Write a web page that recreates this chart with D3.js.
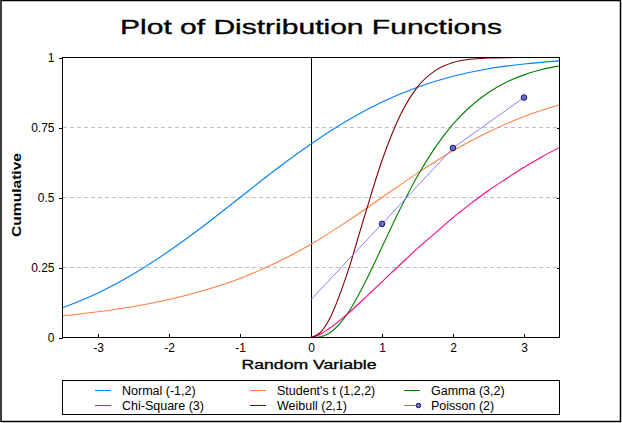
<!DOCTYPE html>
<html><head><meta charset="utf-8">
<script src="https://cdn.jsdelivr.net/npm/d3@7"></script>
<style>
html,body{margin:0;padding:0;background:#fff;}
svg{display:block;font-family:"Liberation Sans",Arial,sans-serif;}
</style></head>
<body>
<svg id="chart" width="622" height="423"></svg>
<script>
// ---- data ----
const title = "Plot of Distribution Functions";
const xTicks = [-3, -2, -1, 0, 1, 2, 3];
const yTicks = [0, 0.25, 0.5, 0.75, 1];
const yTickLabels = ["0", "0.25", "0.5", "0.75", "1"];

const xFull = [-3.5, -3, -2.5, -2, -1.5, -1, -0.5, 0, 0.5, 1, 1.5, 2, 2.5, 3, 3.5];
const normalY = [0.106, 0.159, 0.227, 0.309, 0.401, 0.5, 0.599, 0.691, 0.773, 0.841, 0.894, 0.933, 0.960, 0.977, 0.988];
const studentY = [0.077, 0.092, 0.111, 0.136, 0.169, 0.211, 0.266, 0.333, 0.413, 0.5, 0.587, 0.667, 0.734, 0.789, 0.831];

const xPos = [0, 0.125, 0.25, 0.5, 0.75, 1, 1.25, 1.5, 1.75, 2, 2.25, 2.5, 2.75, 3, 3.25, 3.5];
const gammaY = [0, 0.002, 0.014, 0.080, 0.191, 0.323, 0.456, 0.577, 0.679, 0.762, 0.826, 0.875, 0.912, 0.938, 0.957, 0.970];
const chiY = [0, 0.011, 0.031, 0.081, 0.139, 0.199, 0.259, 0.318, 0.373, 0.428, 0.478, 0.525, 0.567, 0.608, 0.645, 0.679];
const weibullY = [0, 0.016, 0.061, 0.221, 0.430, 0.632, 0.790, 0.895, 0.953, 0.982, 0.994, 0.998, 0.9995, 0.9999, 1, 1];

const poissonX = [0, 1, 2, 3];
const poissonY = [0.135, 0.406, 0.677, 0.857];
const poissonMarkX = [1, 2, 3];

const seriesNames = ["Normal (-1,2)", "Student's t (1,2,2)", "Gamma (3,2)", "Chi-Square (3)", "Weibull (2,1)", "Poisson (2)"];
const seriesColors = ["#0080ff", "#ff8040", "#008000", "#ff0080", "#800000", "#8080ff"];

// ---- layout ----
const svg = d3.select("#chart");
const L = 62.5, R = 559.5, T = 57.5, B = 337.5;
const x = d3.scaleLinear().domain([-3.5, 3.5]).range([L, R]);
const y = d3.scaleLinear().domain([0, 1]).range([B, T]);

svg.append("rect").attr("x", 1).attr("y", 0.5).attr("width", 619.5).attr("height", 421)
  .attr("fill", "#fff").attr("stroke", "#000").attr("stroke-width", 1.5);

svg.append("text").attr("x", 311).attr("y", 34).attr("text-anchor", "middle")
  .attr("font-size", 20.5).attr("font-weight", "normal")
  .attr("stroke", "#000").attr("stroke-width", 0.35)
  .attr("textLength", 382).attr("lengthAdjust", "spacingAndGlyphs").text(title);

// grid
svg.append("g").selectAll("line").data([0.25, 0.5, 0.75]).join("line")
  .attr("x1", L).attr("x2", R).attr("y1", d => y(d)).attr("y2", d => y(d))
  .attr("stroke", "#c0c0c0").attr("stroke-dasharray", "4,3").attr("shape-rendering", "crispEdges");

// vertical zero line
svg.append("line").attr("x1", x(0)).attr("x2", x(0)).attr("y1", T).attr("y2", B)
  .attr("stroke", "#000").attr("shape-rendering", "crispEdges");

// axes
const yAxisL = d3.axisLeft(y).tickValues(yTicks).tickSize(4).tickFormat((d, i) => yTickLabels[i]);
const gL = svg.append("g").attr("transform", `translate(${L},0)`).call(yAxisL);
gL.select(".domain").remove();
gL.selectAll("line").attr("shape-rendering", "crispEdges");
gL.selectAll("text").attr("font-size", 12).attr("font-family", "Liberation Sans, Arial, sans-serif").attr("dx", -1);

const yAxisR = d3.axisLeft(y).tickValues([0.25, 0.5, 0.75]).tickSize(3).tickFormat("");
const gR = svg.append("g").attr("transform", `translate(${R},0)`).call(yAxisR);
gR.select(".domain").remove();
gR.selectAll("line").attr("shape-rendering", "crispEdges");

const xAxis = d3.axisBottom(x).tickValues(xTicks).tickSize(-4).tickFormat(d3.format("d"));
const gX = svg.append("g").attr("transform", `translate(0,${B})`).call(xAxis);
gX.select(".domain").remove();
gX.selectAll("line").attr("shape-rendering", "crispEdges");
gX.selectAll("text").attr("font-size", 12).attr("font-family", "Liberation Sans, Arial, sans-serif")
  .attr("y", 6).attr("dy", "0.71em").text(d => d < 0 ? "-" + Math.abs(d) : d);

// curves
const clip = svg.append("clipPath").attr("id", "clip").append("rect")
  .attr("x", L).attr("y", T - 1).attr("width", R - L).attr("height", B - T + 2);
const plot = svg.append("g").attr("clip-path", "url(#clip)");
const line = d3.line().x(d => x(d[0])).y(d => y(d[1])).curve(d3.curveMonotoneX);
const lin = d3.line().x(d => x(d[0])).y(d => y(d[1]));

const curves = [
  [xFull, normalY, 0], [xFull, studentY, 1], [xPos, gammaY, 2],
  [xPos, chiY, 3], [xPos, weibullY, 4]
];
curves.forEach(([xs, ys, ci]) => {
  plot.append("path").datum(xs.map((v, i) => [v, ys[i]]))
    .attr("d", line).attr("fill", "none").attr("stroke", seriesColors[ci]).attr("stroke-width", 1.1);
});
plot.append("path").datum(poissonX.map((v, i) => [v, poissonY[i]]))
  .attr("d", lin).attr("fill", "none").attr("stroke", seriesColors[5]).attr("stroke-width", 1);
plot.selectAll("circle.pm").data(poissonMarkX).join("circle").attr("class", "pm")
  .attr("cx", d => x(d)).attr("cy", d => y(poissonY[poissonX.indexOf(d)])).attr("r", 2.8)
  .attr("fill", "#6a6ae0").attr("stroke", "#1a1a50").attr("stroke-width", 1);

// plot frame
svg.append("rect").attr("x", L).attr("y", T).attr("width", R - L).attr("height", B - T)
  .attr("fill", "none").attr("stroke", "#000").attr("shape-rendering", "crispEdges");

// axis titles
svg.append("text").attr("x", 309).attr("y", 369).attr("text-anchor", "middle")
  .attr("font-size", 12.5).attr("font-weight", "normal").attr("stroke", "#000").attr("stroke-width", 0.3)
  .attr("textLength", 135).attr("lengthAdjust", "spacingAndGlyphs").text("Random Variable");
svg.append("text").attr("transform", "translate(21,195) rotate(-90)").attr("text-anchor", "middle")
  .attr("font-size", 12).attr("font-weight", "bold")
  .attr("textLength", 84).attr("lengthAdjust", "spacingAndGlyphs").text("Cumulative");

// legend
svg.append("rect").attr("x", 62.5).attr("y", 380.5).attr("width", 497).attr("height", 33.5)
  .attr("fill", "none").attr("stroke", "#000").attr("shape-rendering", "crispEdges");
const colX = [95, 250, 404];
const rowY = [390, 405];
seriesNames.forEach((name, i) => {
  const cx = colX[i % 3], cy = rowY[Math.floor(i / 3)];
  const g = svg.append("g");
  g.append("line").attr("x1", cx).attr("x2", cx + 16).attr("y1", cy + 0.5).attr("y2", cy + 0.5)
    .attr("stroke", seriesColors[i]);
  if (i === 5) {
    g.append("circle").attr("cx", cx + 14.5).attr("cy", cy + 0.5).attr("r", 2.3)
      .attr("fill", "#6a6ae0").attr("stroke", "#1a1a50");
  }
  g.append("text").attr("x", cx + 27).attr("y", cy + 4.5).attr("font-size", 12.5).text(name);
});
</script>
</body></html>
